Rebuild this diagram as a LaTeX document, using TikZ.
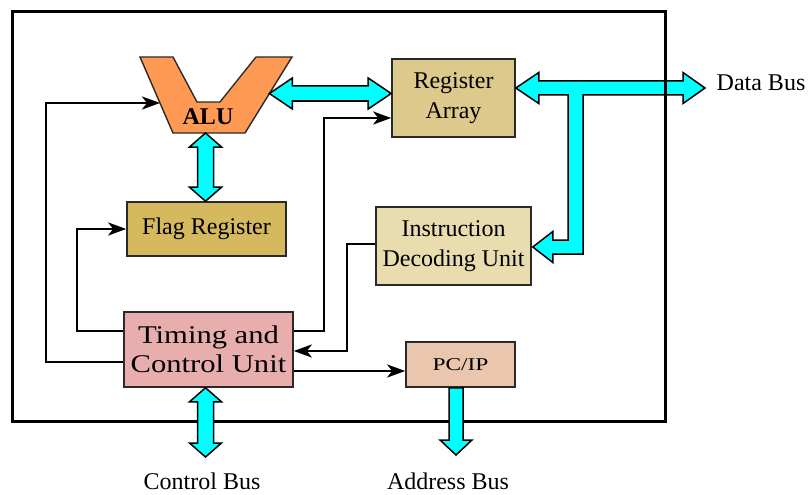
\documentclass[tikz,border=0pt]{standalone}
\usepackage{fontspec}
\setmainfont{Liberation Serif}
\newfontfamily\widefont[FakeStretch=1.2]{Liberation Serif}
\newfontfamily\widerfont[FakeStretch=1.3]{Liberation Serif}
\usetikzlibrary{arrows.meta,calc}

\definecolor{buscyan}{HTML}{00FFFF}
\definecolor{alufill}{HTML}{FF9A55}
\definecolor{regfill}{HTML}{DCC98B}
\definecolor{flagfill}{HTML}{D4B95E}
\definecolor{idufill}{HTML}{E9DDB0}
\definecolor{tcufill}{HTML}{E8AEAE}
\definecolor{pcfill}{HTML}{E9C6AD}
\definecolor{boxline}{HTML}{2A2A2A}

\tikzset{
  unit/.style={draw=boxline, line width=1.6pt, align=center, inner sep=0pt,
    font=\fontsize{24}{30}\selectfont},
  conn/.style={line width=2.8pt, -{Stealth[length=18pt,width=13pt,inset=5pt]}},
  bus/.style={draw=black, line width=1.5pt, fill=buscyan, line join=miter},
  buslabel/.style={font=\fontsize{24}{28}\selectfont, inner sep=0pt, anchor=base},
}

% horizontal double-headed bus between two points on one level
\newcommand\hbus[2]{%
  \draw[bus] let \p1=(#1), \p2=(#2) in
    (\x1,\y1) -- (\x1+23pt,\y1+15.5pt) -- (\x1+23pt,\y1+7.5pt)
    -- (\x2-23pt,\y1+7.5pt) -- (\x2-23pt,\y1+15.5pt) -- (\x2,\y1)
    -- (\x2-23pt,\y1-15.5pt) -- (\x2-23pt,\y1-7.5pt)
    -- (\x1+23pt,\y1-7.5pt) -- (\x1+23pt,\y1-15.5pt) -- cycle;}
% vertical double-headed bus, top point first
\newcommand\vbus[2]{%
  \draw[bus] let \p1=(#1), \p2=(#2) in
    (\x1,\y1) -- (\x1+16pt,\y1-14pt) -- (\x1+8pt,\y1-14pt)
    -- (\x1+8pt,\y2+14pt) -- (\x1+16pt,\y2+14pt) -- (\x1,\y2)
    -- (\x1-16pt,\y2+14pt) -- (\x1-8pt,\y2+14pt)
    -- (\x1-8pt,\y1-14pt) -- (\x1-16pt,\y1-14pt) -- cycle;}
% vertical single-headed bus pointing down
\newcommand\dbus[2]{%
  \draw[bus] let \p1=(#1), \p2=(#2) in
    (\x1-7pt,\y1) -- (\x1+7pt,\y1) -- (\x1+7pt,\y2+15pt)
    -- (\x1+16pt,\y2+15pt) -- (\x1,\y2) -- (\x1-16pt,\y2+15pt)
    -- (\x1-7pt,\y2+15pt) -- cycle;}

\begin{document}
\begin{tikzpicture}[x=1pt,y=-1pt]
\useasboundingbox (0,0) rectangle (809,495);

% functional units
\node[unit, fill=regfill, minimum width=123pt, minimum height=78pt]
  (ra) at (453.5,98) {Register\\Array};
\node[unit, fill=flagfill, minimum width=159pt, minimum height=54pt]
  (flag) at (206.5,229) {Flag Register};
\node[unit, fill=tcufill, minimum width=169pt, minimum height=75pt,
  font=\widefont\fontsize{25.5}{29}\selectfont]
  (tcu) at (208.5,349.5) {Timing and\\Control Unit};
\node[unit, fill=idufill, minimum width=155pt, minimum height=78pt]
  (idu) at (453.5,246) {Instruction\\Decoding Unit};
\node[unit, fill=pcfill, minimum width=109pt, minimum height=45pt,
  font=\widerfont\fontsize{18}{20}\selectfont]
  (pc) at (460.5,364.5) {PC/IP};

% ALU outline
\draw[draw=boxline, line width=1.4pt, fill=alufill, line join=miter]
  (140,57) -- (173,57) -- (197,102) -- (220,102) -- (256,57) -- (292,57)
  -- (245,133) -- (173,133) -- cycle;
\node[font=\fontsize{24}{26}\selectfont\bfseries, inner sep=0pt]
  (alu) at (208,117) {ALU};
\coordinate (aluR) at (269.4,93.5);
\coordinate (aluL) at (160,103);
\coordinate (aluB) at (205.5,133);

% external bus labels
\node[buslabel] (dblabel) at (761,91) {Data Bus};
\node[buslabel] (cblabel) at (202,489) {Control Bus};
\node[buslabel] (ablabel) at (448,489) {Address Bus};
\coordinate (dbEnd) at (705,88);
\coordinate (cbEnd) at (205.5,457);
\coordinate (abEnd) at (456,455);

% data bus: register array <-> outside, branch to the decoder
\draw[bus] let \p1=($(ra.east)+(0,-10)$), \p2=(dbEnd), \p3=($(idu.east)+(1,1)$) in
  (\x1,\y1) -- (\x1+23pt,\y1+15.5pt) -- (\x1+23pt,\y1+7pt)
  -- (\x2-22pt,\y1+7pt) -- (\x2-22pt,\y1+15.5pt) -- (\x2,\y1)
  -- (\x2-22pt,\y1-15.5pt) -- (\x2-22pt,\y1-7pt)
  -- (583,\y1-7pt) -- (583,\y3-7pt) -- (\x3+20pt,\y3-7pt)
  -- (\x3+20pt,\y3-15.5pt) -- (\x3,\y3) -- (\x3+20pt,\y3+15.5pt)
  -- (\x3+20pt,\y3+7pt) -- (568,\y3+7pt) -- (568,\y1-7pt)
  -- (\x1+23pt,\y1-7pt) -- (\x1+23pt,\y1-15.5pt) -- cycle;

% processor boundary
\draw[line width=3pt] (12,12) rectangle (665,421);

% internal buses
\hbus{aluR}{$(ra.west)+(0,-4.5)$}
\vbus{aluB}{flag.north -| aluB}
\vbus{$(tcu.south)+(-3,0)$}{cbEnd}
\dbus{$(pc.south)+(-4.5,0)$}{abEnd}

% control lines
\draw[conn] (tcu.west |- 0,362) -- (46,362) |- (aluL);
\draw[conn] (tcu.west |- 0,331) -- (77,331) |- (flag.west);
\draw[conn] (tcu.east |- 0,331) -- (324,331) |- ($(ra.west)+(0,20)$);
\draw[conn] (idu.west |- 0,244) -- (347,244) |- (tcu.east |- 0,351);
\draw[conn] (tcu.east |- 0,371) -- (pc.west |- 0,371);
\end{tikzpicture}
\end{document}
